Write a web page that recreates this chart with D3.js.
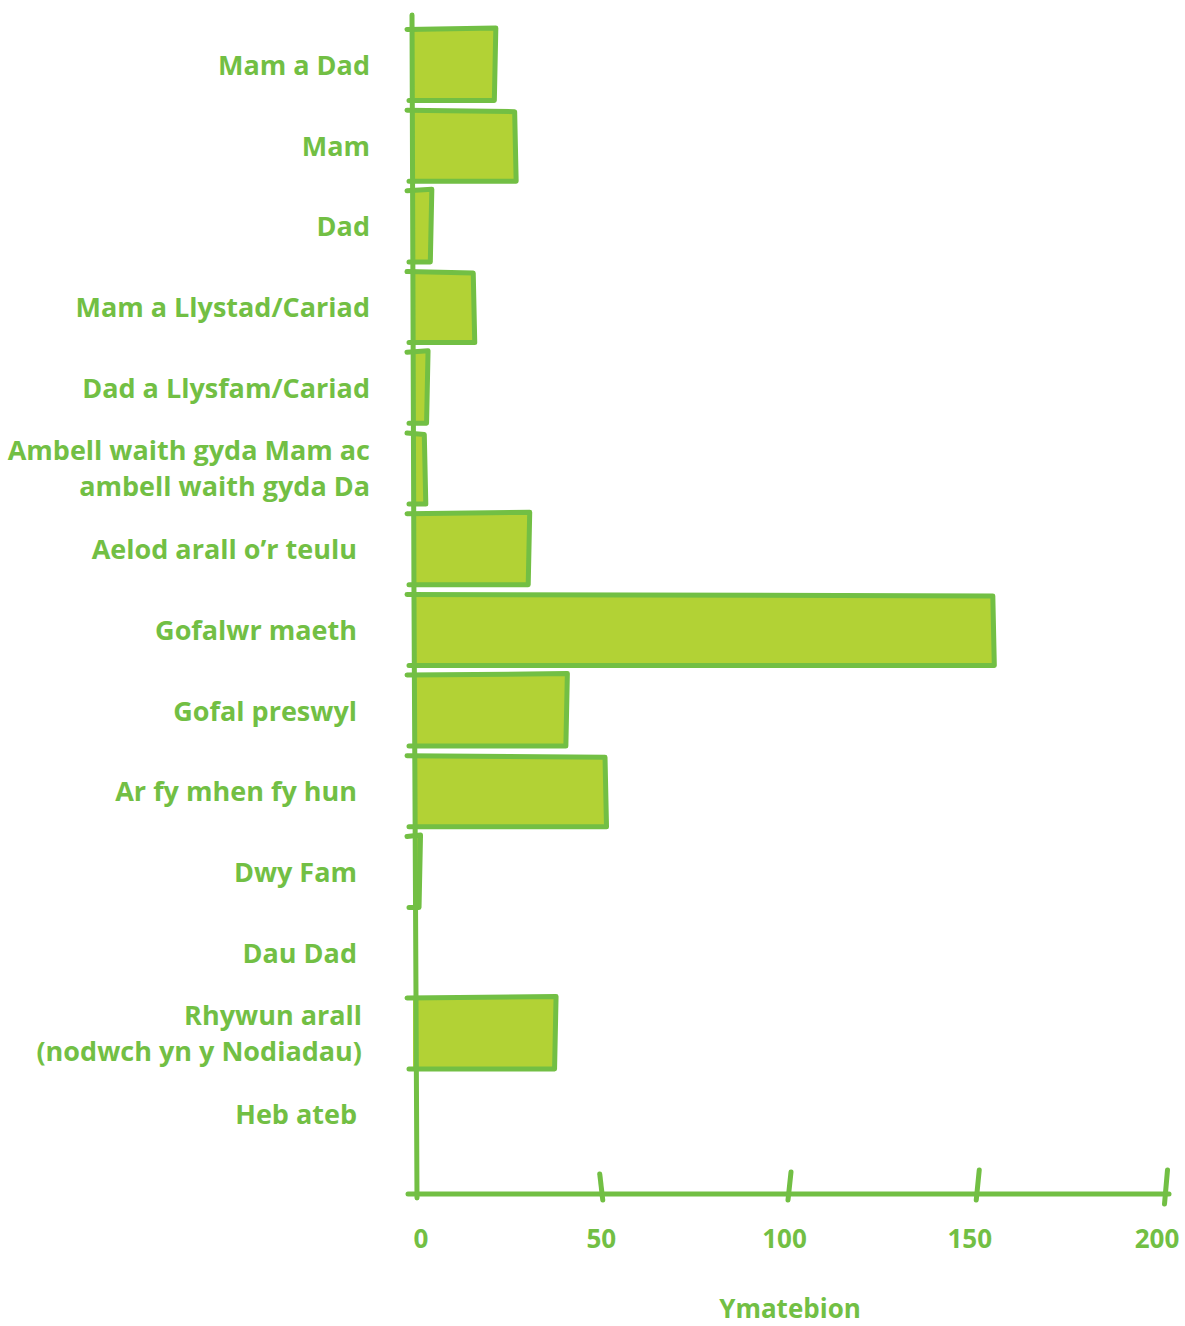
<!DOCTYPE html>
<html>
<head>
<meta charset="utf-8">
<script src="https://cdn.jsdelivr.net/npm/d3@7"></script>
<style>
  body { margin: 0; background: #fff; }
  text { font-family: "Open Sans", "DejaVu Sans", sans-serif; font-weight: 700; fill: #72bf44; }
</style>
</head>
<body>
<script>
const categories = [
  ["Mam a Dad"],
  ["Mam"],
  ["Dad"],
  ["Mam a Llystad/Cariad"],
  ["Dad a Llysfam/Cariad"],
  ["Ambell waith gyda Mam ac", "ambell waith gyda Da"],
  ["Aelod arall o\u2019r teulu"],
  ["Gofalwr maeth"],
  ["Gofal preswyl"],
  ["Ar fy mhen fy hun"],
  ["Dwy Fam"],
  ["Dau Dad"],
  ["Rhywun arall", "(nodwch yn y Nodiadau)"],
  ["Heb ateb"]
];
const responses = [22, 27, 5, 16, 4, 3, 31, 154, 41, 51, 2, 0, 38, 0];
const xTicks = [0, 50, 100, 150, 200];
const xTitle = "Ymatebion";

const width = 1185;
const height = 1326;
const green = "#72bf44";
const lime = "#b2d235";

const svg = d3.select("body").append("svg")
  .attr("width", width)
  .attr("height", height);

const x = d3.scaleLinear().domain([0, 200]).range([413, 1166]);
const y = d3.scaleBand()
  .domain(d3.range(categories.length))
  .range([24.6, 1154.5])
  .paddingInner(0.12)
  .paddingOuter(0.06);

const axisY = 1194;

// bars, drawn as slightly wobbly outlines
const line = d3.line().curve(d3.curveLinear);
const bars = svg.append("g");
responses.forEach((v, i) => {
  if (v <= 0) return;
  const x0 = x(0), x1 = x(v);
  const y0 = y(i), y1 = y(i) + y.bandwidth();
  const wob = (i % 2 ? 1.5 : -1.5);
  bars.append("path")
    .attr("d", line([[x0, y0], [x1, y0 + wob], [x1 + wob, y1], [x0, y1]]) + "Z")
    .attr("fill", lime)
    .attr("stroke", "none");
  bars.append("path")
    .attr("d", line([[x0 - 6, y0], [x1, y0 + wob], [x1 + wob, y1], [x0 - 4, y1]]))
    .attr("fill", "none")
    .attr("stroke", green)
    .attr("stroke-width", 5)
    .attr("stroke-linecap", "round")
    .attr("stroke-linejoin", "round");
});

// vertical axis line
svg.append("path")
  .attr("d", line([[x(0) - 1, 15], [x(0) + 1, 600], [x(0) + 4, axisY + 4]]))
  .attr("fill", "none")
  .attr("stroke", green)
  .attr("stroke-width", 5)
  .attr("stroke-linecap", "round");

// horizontal axis line
svg.append("path")
  .attr("d", line([[x(0) - 5, axisY], [x(200) + 3, axisY]]))
  .attr("fill", "none")
  .attr("stroke", green)
  .attr("stroke-width", 5)
  .attr("stroke-linecap", "round");

// ticks
xTicks.slice(1).forEach((t, k) => {
  const top = t === 200 ? axisY - 24 : axisY - 20 - k * 2;
  const bot = t === 200 ? axisY + 10 : axisY + 6;
  const lean = k === 0 ? -1.5 : 1.5;
  svg.append("path")
    .attr("d", line([[x(t) + lean, top], [x(t) - lean, bot]]))
    .attr("fill", "none")
    .attr("stroke", green)
    .attr("stroke-width", 5)
    .attr("stroke-linecap", "round");
});

// tick labels
const tickShift = [8, 0, -5, -8, -9];
svg.append("g").selectAll("text")
  .data(xTicks)
  .join("text")
  .attr("x", (d, i) => x(d) + tickShift[i])
  .attr("y", 1248)
  .attr("text-anchor", "middle")
  .attr("font-size", 26)
  .text((d) => d);

// axis title
svg.append("text")
  .attr("x", 790)
  .attr("y", 1318)
  .attr("text-anchor", "middle")
  .attr("font-size", 26)
  .text(xTitle);

// category labels
const labels = svg.append("g");
categories.forEach((lines, i) => {
  const cy = y(i) + y.bandwidth() / 2;
  const lx = i < 6 ? 370 : (i === 12 ? 362 : 357);
  const t = labels.append("text")
    .attr("text-anchor", "end")
    .attr("font-size", 27);
  lines.forEach((s, j) => {
    t.append("tspan")
      .attr("x", lx)
      .attr("y", cy + 10 + (j - (lines.length - 1) / 2) * 36)
      .text(s);
  });
});
</script>
</body>
</html>
